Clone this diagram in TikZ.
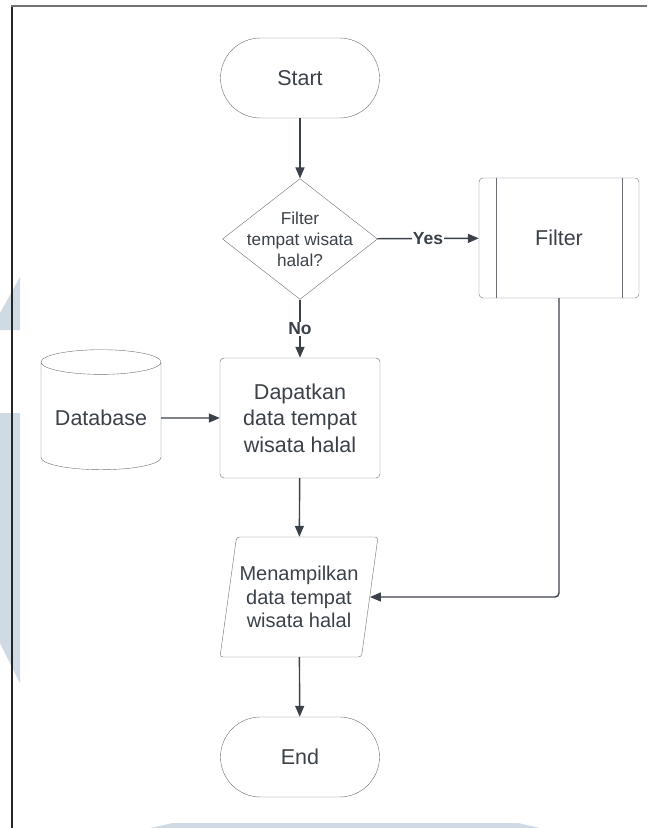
\documentclass[tikz,border=0pt]{standalone}
\usepackage{fontspec}
\setmainfont{Liberation Sans}
\usetikzlibrary{shapes.geometric,arrows.meta}
\definecolor{ink}{HTML}{3B4149}
\definecolor{rim}{HTML}{6A6E74}
\definecolor{wmblue}{HTML}{CFDAE5}
\begin{document}
\begin{tikzpicture}[x=1pt, y=-1pt, >={Triangle[length=11pt,width=9pt]},
	terminal/.style={rectangle, minimum width=159pt, minimum height=80pt, rounded corners=40pt,
		draw=rim, text=ink, font=\fontsize{21.5}{24}\selectfont},
	decision/.style={diamond, minimum width=155pt, minimum height=116pt, inner sep=-10pt,
		draw=rim, text=ink, align=center, font=\fontsize{17.2}{21}\selectfont},
	process/.style={rectangle, minimum width=160pt, minimum height=120pt, rounded corners=4pt,
		draw=rim, text=ink, align=center, font=\fontsize{21.5}{26.5}\selectfont},
	subproc/.style={process, path picture={
		\draw[rim] ([xshift=17pt]path picture bounding box.north west) -- ([xshift=17pt]path picture bounding box.south west)
			([xshift=-17pt]path picture bounding box.north east) -- ([xshift=-17pt]path picture bounding box.south east);}},
	store/.style={cylinder, shape border rotate=90, aspect=0.25, minimum width=120pt, minimum height=120pt,
		draw=rim, text=ink, font=\fontsize{21.5}{24}\selectfont},
	inout/.style={trapezium, trapezium left angle=75, trapezium right angle=105, trapezium stretches body,
		minimum width=158pt, minimum height=120pt, inner sep=0pt, rounded corners=3pt,
		draw=rim, text=ink, align=center, font=\fontsize{20}{23.5}\selectfont},
	answer/.style={fill=white, text=ink, inner sep=1pt, font=\bfseries\fontsize{17.5}{19}\selectfont},
	flow/.style={draw=ink, line width=1.4pt}]
	\useasboundingbox (0,0) rectangle (654,828);
	% watermark and frame
	\fill[wmblue] (0,313) -- (20,277) -- (20,330) -- (0,330) -- cycle;
	\fill[wmblue] (0,413) -- (20,413) -- (20,683) -- (0,643) -- cycle;
	\fill[wmblue] (150,828) -- (173,823) -- (518,823) -- (540,828) -- cycle;
	\draw[black!85, line width=1.3pt] (12,828) -- (12,6);
	\draw[black!55, line width=2pt] (11.4,6) -- (647,6);
	% nodes
	\node[terminal] (start) at (300,78) {Start};
	\node[decision] (cek) at (300,239) {Filter\\tempat wisata\\halal?};
	\node[subproc] (filter) at (559,238) {Filter};
	\node[store] (db) at (101,418) {Database};
	\node[process] (ambil) at (300,418) {Dapatkan\\data tempat\\wisata halal};
	\node[inout] (tampil) at (299,597) {Menampilkan\\data tempat\\wisata halal};
	\node[terminal] (end) at (300,757) {End};
	% connectors
	\draw[flow, ->] (start) -- (cek);
	\draw[flow, ->] (cek) -- node[answer] {Yes} (filter);
	\draw[flow, ->] (cek) -- node[answer] {No} (ambil);
	\draw[flow, ->] (db) -- (ambil);
	\draw[flow, ->] (ambil) -- (tampil);
	\draw[flow, ->, rounded corners=4pt] (filter) |- (tampil);
	\draw[flow, ->] (tampil) -- (end);
\end{tikzpicture}
\end{document}
